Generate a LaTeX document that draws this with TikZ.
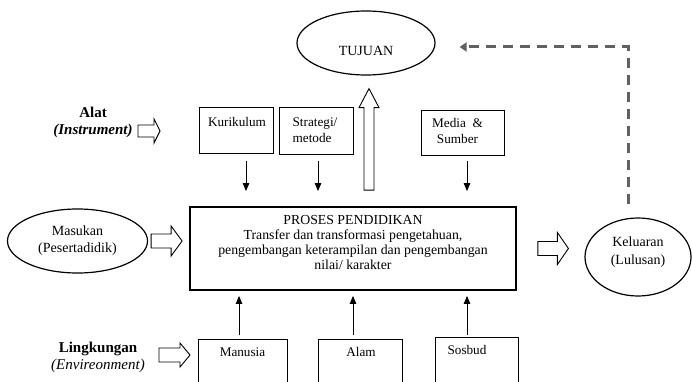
\documentclass[tikz,border=0pt]{standalone}
\usepackage{fontspec}
\setmainfont{Liberation Serif}
\usetikzlibrary{shapes.geometric,arrows.meta,calc}
% horizontal hollow block arrow: tail point, tip point, shaft half, head half, head length
\newcommand{\hollowH}[5]{%
  \draw[hollow] let \p1=(#1), \p2=(#2) in
   (\x1,{\y1+#3}) -- ({\x2-#5},{\y1+#3}) -- ({\x2-#5},{\y1+#4}) -- (\x2,\y1)
   -- ({\x2-#5},{\y1-#4}) -- ({\x2-#5},{\y1-#3}) -- (\x1,{\y1-#3}) -- cycle;}
% vertical (upward) hollow block arrow
\newcommand{\hollowV}[5]{%
  \draw[hollow] let \p1=(#1), \p2=(#2) in
   ({\x1-#3},\y1) -- ({\x1-#3},{\y2-#5}) -- ({\x1-#4},{\y2-#5}) -- (\x1,\y2)
   -- ({\x1+#4},{\y2-#5}) -- ({\x1+#3},{\y2-#5}) -- ({\x1+#3},\y1) -- cycle;}
\begin{document}
\begin{tikzpicture}[x=1pt,y=-1pt,
  ell/.style={draw, ellipse, line width=1.2pt, inner sep=0, align=center,
              font=\fontsize{14}{17}\selectfont},
  smallbox/.style={draw, line width=0.8pt, inner sep=0},
  boxlbl/.style={anchor=north, inner sep=0, align=center,
              font=\fontsize{13.2}{15.5}\selectfont},
  hollow/.style={draw, line width=0.9pt, fill=white, line join=miter},
  darrow/.style={line width=0.9pt, -{Triangle[length=8pt,width=6.5pt]}},
  feedback/.style={draw=black!62, line width=3pt, dash pattern=on 10pt off 7pt,
              -{Triangle[length=7pt,width=9pt]}},
  sidelbl/.style={align=center, inner sep=0, font=\fontsize{15}{17}\selectfont}]
\useasboundingbox (0,0) rectangle (692,382);

% ellipses
\node[ell, minimum width=138pt, minimum height=64pt,
      label={[yshift=-8pt, inner sep=0, font=\fontsize{14}{17}\selectfont]center:TUJUAN}]
      (tujuan) at (366,43) {};
\node[ell, minimum width=140pt, minimum height=64pt] (masukan) at (77.5,241)
      {Masukan\\(Pesertadidik)};
\node[ell, minimum width=106pt, minimum height=78pt,
      label={[yshift=5pt, inner sep=0, align=center, font=\fontsize{14}{18}\selectfont]center:Keluaran\\(Lulusan)}]
      (keluaran) at (638,257) {};

% main process box
\node[draw, line width=1.8pt, minimum width=326pt, minimum height=83pt, inner sep=0,
      label={[anchor=north, inner sep=0, yshift=-9pt, align=center,
              font=\fontsize{13.8}{15}\selectfont]north:PROSES PENDIDIKAN\\
              Transfer dan transformasi pengetahuan,\\
              pengembangan keterampilan dan pengembangan\\
              nilai/ karakter}]
      (proses) at (353,248.5) {};

% top boxes
\node[smallbox, minimum width=74pt, minimum height=46pt,
      label={[boxlbl, yshift=-11pt, xshift=1pt]north:Kurikulum}] (kur) at (236,130) {};
\node[smallbox, minimum width=74pt, minimum height=47pt,
      label={[boxlbl, align=left, yshift=-11pt, xshift=-1pt]north:Strategi/\\metode}] (strat) at (316,130.5) {};
\node[smallbox, minimum width=83pt, minimum height=45pt,
      label={[boxlbl, yshift=-9pt, xshift=-5pt]north:Media~~\&\\Sumber}] (media) at (462.5,132.5) {};

% bottom boxes (cut by the lower edge)
\node[smallbox, minimum width=89pt, minimum height=62pt,
      label={[boxlbl, yshift=-9pt]north:Manusia}] (manusia) at (242.5,370) {};
\node[smallbox, minimum width=84pt, minimum height=62pt,
      label={[boxlbl, yshift=-9pt, xshift=1pt]north:Alam}] (alam) at (360,370) {};
\node[smallbox, minimum width=83pt, minimum height=64pt,
      label={[boxlbl, yshift=-9pt, xshift=-9.5pt]north:Sosbud}] (sosbud) at (476.5,369) {};

% side labels
\node[sidelbl] (alat) at (93,122.5) {\textbf{Alat}\\\textbf{\textit{(Instrument)}}};
\node[sidelbl] (lingk) at (98,357.5) {\textbf{Lingkungan}\\\textit{(Envireonment)}};

% thin arrows into the process box
\draw[darrow] ([xshift=10pt,yshift=-8pt]kur.south) -- ([xshift=10pt,yshift=15pt]kur.south |- proses.north);
\draw[darrow] ([xshift=2pt,yshift=-7pt]strat.south) -- ([xshift=2pt,yshift=15pt]strat.south |- proses.north);
\draw[darrow] ([xshift=4.5pt,yshift=-6pt]media.south) -- ([xshift=4.5pt,yshift=15pt]media.south |- proses.north);
\draw[darrow] ([xshift=-3.5pt,yshift=4pt]manusia.north) -- ([xshift=-3.5pt,yshift=-5pt]manusia.north |- proses.south);
\draw[darrow] ([xshift=-7pt,yshift=4pt]alam.north) -- ([xshift=-7pt,yshift=-5pt]alam.north |- proses.south);
\draw[darrow] ([xshift=-9.5pt,yshift=2pt]sosbud.north) -- ([xshift=-9.5pt,yshift=-5pt]sosbud.north |- proses.south);

% hollow block arrows
\coordinate (alatA) at (138,131);
\coordinate (alatB) at (160,131);
\hollowH{alatA}{alatB}{6pt}{12pt}{6pt}
\coordinate (lingA) at (159,355);
\coordinate (lingB) at (190,355);
\hollowH{lingA}{lingB}{7pt}{12pt}{10pt}
\hollowH{[xshift=3pt]masukan.east}{[xshift=-7pt]masukan.east -| proses.west}{7pt}{15pt}{11pt}
\hollowH{[xshift=21pt]proses.east}{[xshift=-16pt]proses.east -| keluaran.west}{7pt}{16pt}{11pt}
\hollowV{[xshift=16pt,yshift=16pt]proses.north}{[xshift=3pt,yshift=-13pt]tujuan.south}{5pt}{10pt}{19pt}

% dashed feedback
\draw[feedback] ([xshift=-10pt,yshift=13pt]keluaran.north) |- ([xshift=24pt,yshift=-4pt]tujuan.east);
\end{tikzpicture}
\end{document}
